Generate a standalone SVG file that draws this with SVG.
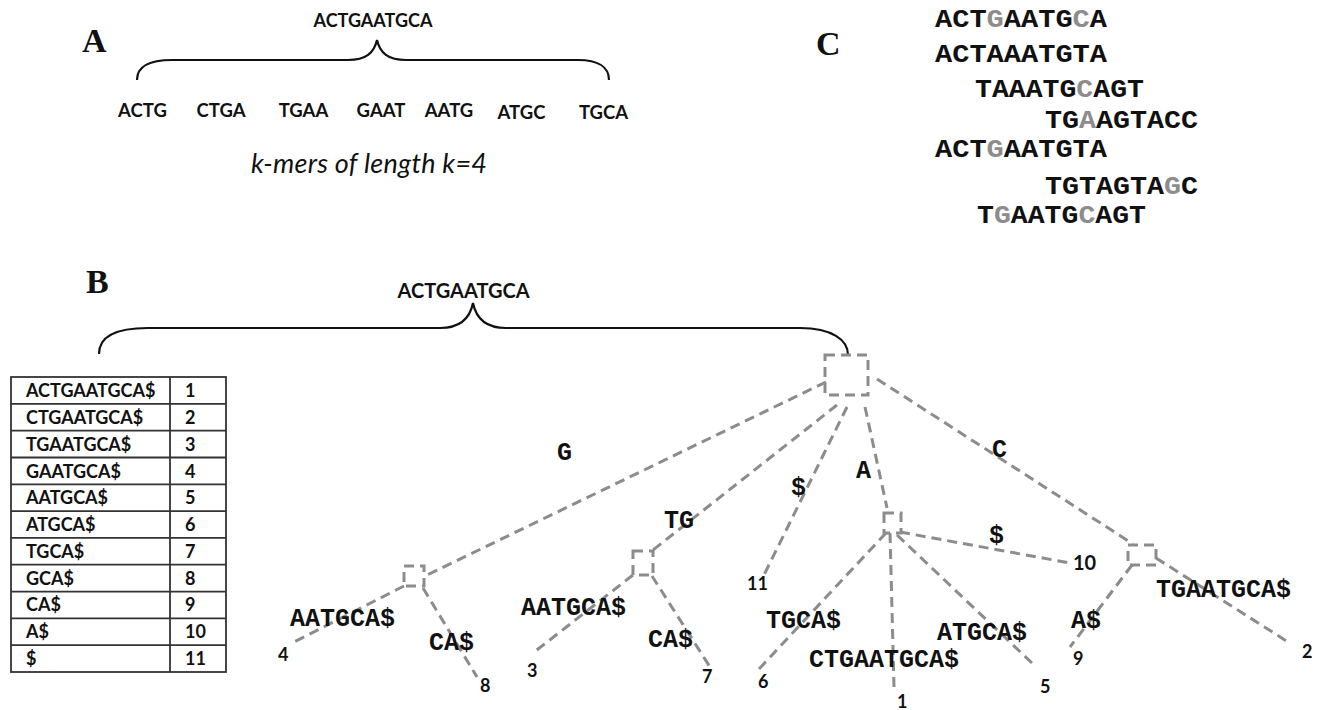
<svg xmlns="http://www.w3.org/2000/svg" width="1319" height="710" viewBox="0 0 1319 710">
  <style>
    .panel { font-family: "Liberation Serif", "Times New Roman", serif; font-weight: bold; font-size: 34px; fill: #111; }
    .seq { font-family: Lato, "Liberation Sans", sans-serif; font-weight: bold; fill: #111; text-anchor: middle; }
    .cap { font-family: Lato, "Liberation Sans", sans-serif; font-style: italic; font-size: 27px; fill: #111; }
    .read { font-family: "Courier New", "Nimbus Mono PS", "Liberation Mono", monospace; font-weight: bold; font-size: 25px; fill: #111; }
    .read .mm { fill: #8c8c8c; }
    .edge-lbl { font-family: "Courier New", "Nimbus Mono PS", "Liberation Mono", monospace; font-weight: bold; font-size: 25px; fill: #111; }
    .leaf { font-family: Lato, "Liberation Sans", sans-serif; font-weight: bold; font-size: 18px; fill: #111; }
    .brace { fill: none; stroke: #111; stroke-width: 2.2; }
    .dash { fill: none; stroke: #8c8c8c; stroke-width: 3; stroke-dasharray: 10 6; }
    .tbl { fill: none; stroke: #333; stroke-width: 1.8; }
    .cell { font-family: Lato, "Liberation Sans", sans-serif; font-weight: bold; font-size: 18px; fill: #111; }
  </style>
  <rect width="1319" height="710" fill="#ffffff"/>

  <!-- Panel A: k-mer decomposition -->
  <g id="panel-a">
    <text class="panel" x="82" y="52">A</text>
    <text class="seq" x="373" y="27" font-size="18">ACTGAATGCA</text>
    <path class="brace" d="M137,80 C137,67 148,60 172,60 L348,60 C366,60 374,53 377,40 C380,53 388,60 406,60 L578,60 C598,60 609,67 609,80"/>
    <g class="seq" font-size="18.5">
      <text x="142.5" y="117">ACTG</text>
      <text x="221" y="117">CTGA</text>
      <text x="303.5" y="117">TGAA</text>
      <text x="381" y="117">GAAT</text>
      <text x="449" y="117">AATG</text>
      <text x="521.5" y="119">ATGC</text>
      <text x="603.5" y="119">TGCA</text>
    </g>
    <text class="cap" x="251" y="173" textLength="236">k-mers of length k=4</text>
  </g>

  <!-- Panel C: aligned reads with mismatches in grey -->
  <g id="panel-c">
    <text class="panel" x="816" y="55">C</text>
    <text class="read" x="935" y="27" textLength="172" lengthAdjust="spacingAndGlyphs">ACT<tspan class="mm">G</tspan>AATG<tspan class="mm">C</tspan>A</text>
    <text class="read" x="935" y="62" textLength="172" lengthAdjust="spacingAndGlyphs">ACTAAATGTA</text>
    <text class="read" x="975" y="97" textLength="169" lengthAdjust="spacingAndGlyphs">TAAATG<tspan class="mm">C</tspan>AGT</text>
    <text class="read" x="1045" y="128" textLength="153" lengthAdjust="spacingAndGlyphs">TG<tspan class="mm">A</tspan>AGTACC</text>
    <text class="read" x="935" y="157" textLength="172" lengthAdjust="spacingAndGlyphs">ACT<tspan class="mm">G</tspan>AATGTA</text>
    <text class="read" x="1045" y="194" textLength="153" lengthAdjust="spacingAndGlyphs">TGTAGTA<tspan class="mm">G</tspan>C</text>
    <text class="read" x="977" y="223" textLength="169" lengthAdjust="spacingAndGlyphs">T<tspan class="mm">G</tspan>AATG<tspan class="mm">C</tspan>AGT</text>
  </g>

  <!-- Panel B: suffix table -->
  <g id="panel-b-label">
    <text class="panel" x="86" y="293">B</text>
    <text class="seq" x="463.5" y="298" font-size="20">ACTGAATGCA</text>
    <path class="brace" d="M99,354 C99,339 112,328 148,328 L440,328 C460,328 470,318 473,303 C476,318 486,328 506,328 L800,328 C832,328 848,340 848,355"/>
  </g>

  <g id="suffix-table">
    <rect class="tbl" x="11" y="377" width="215" height="295"/>
    <path class="tbl" d="M170,377 V672 M11,403.8 H226 M11,430.6 H226 M11,457.5 H226 M11,484.3 H226 M11,511.1 H226 M11,537.9 H226 M11,564.7 H226 M11,591.6 H226 M11,618.4 H226 M11,645.2 H226"/>
    <g class="cell">
      <text x="26" y="397">ACTGAATGCA$</text><text x="185" y="397">1</text>
      <text x="26" y="424">CTGAATGCA$</text><text x="185" y="424">2</text>
      <text x="26" y="451">TGAATGCA$</text><text x="185" y="451">3</text>
      <text x="26" y="478">GAATGCA$</text><text x="185" y="478">4</text>
      <text x="26" y="504">AATGCA$</text><text x="185" y="504">5</text>
      <text x="26" y="531">ATGCA$</text><text x="185" y="531">6</text>
      <text x="26" y="558">TGCA$</text><text x="185" y="558">7</text>
      <text x="26" y="585">GCA$</text><text x="185" y="585">8</text>
      <text x="26" y="611">CA$</text><text x="185" y="611">9</text>
      <text x="26" y="638">A$</text><text x="185" y="638">10</text>
      <text x="26" y="665">$</text><text x="185" y="665">11</text>
    </g>
  </g>

  <!-- Suffix tree edges -->
  <g id="edges" class="dash">
    <path d="M826,382 L423,577"/>
    <path d="M837,405 L653,550"/>
    <path d="M847,407 L763,577"/>
    <path d="M865,407 L887,508"/>
    <path d="M877,379 L1133,544"/>
    <path d="M404,586 L292,643"/>
    <path d="M423,588 L477,677"/>
    <path d="M633,575 L533,653"/>
    <path d="M652,576 L710,667"/>
    <path d="M900,532 L1070,563"/>
    <path d="M890,533 L894,687"/>
    <path d="M897,535 L1032,663"/>
    <path d="M886,533 L758,670"/>
    <path d="M1132,565 L1070,647"/>
    <path d="M1156,558 L1288,642"/>
  </g>

  <!-- Suffix tree nodes -->
  <g id="node-root"><rect class="dash" x="825" y="355" width="43" height="40"/></g>
  <g id="node-g"><rect class="dash" x="404" y="566" width="20" height="20"/></g>
  <g id="node-tg"><rect class="dash" x="633" y="551" width="20" height="24"/></g>
  <g id="node-a"><rect class="dash" x="884" y="513" width="17" height="20"/></g>
  <g id="node-c"><rect class="dash" x="1128" y="545" width="28" height="20"/></g>

  <!-- Edge labels -->
  <g id="edge-labels" class="edge-lbl">
    <text x="557" y="460">G</text>
    <text x="664" y="528">TG</text>
    <text x="791" y="495">$</text>
    <text x="856" y="478">A</text>
    <text x="992" y="457">C</text>
    <text x="989" y="543">$</text>
    <text x="290" y="626">AATGCA$</text>
    <text x="429" y="650">CA$</text>
    <text x="521" y="615">AATGCA$</text>
    <text x="648" y="647">CA$</text>
    <text x="766" y="628">TGCA$</text>
    <text x="809" y="667">CTGAATGCA$</text>
    <text x="937" y="640">ATGCA$</text>
    <text x="1071" y="628">A$</text>
    <text x="1156" y="597">TGAATGCA$</text>
  </g>

  <!-- Leaf positions -->
  <g id="leaf-labels" class="leaf">
    <text x="278" y="661">4</text>
    <text x="480" y="692">8</text>
    <text x="527" y="677">3</text>
    <text x="702" y="683">7</text>
    <text x="747" y="590">11</text>
    <text x="758" y="688">6</text>
    <text x="897" y="708">1</text>
    <text x="1040" y="693">5</text>
    <text x="1073" y="570" font-size="20">10</text>
    <text x="1073" y="665">9</text>
    <text x="1302" y="658">2</text>
  </g>
</svg>
